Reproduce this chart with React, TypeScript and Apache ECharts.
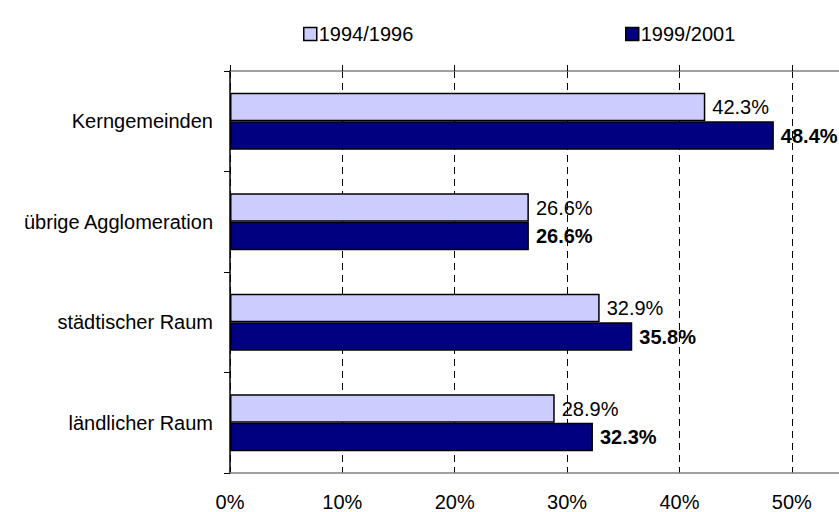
import React, { useEffect, useRef } from "react";
import * as echarts from "echarts";

const categories = ["Kerngemeinden", "übrige Agglomeration", "städtischer Raum", "ländlicher Raum"];
const seriesNames = ["1994/1996", "1999/2001"];
const values1994 = [42.3, 26.6, 32.9, 28.9];
const values1999 = [48.4, 26.6, 35.8, 32.3];

const FONT = '"Liberation Sans", Arial, Helvetica, sans-serif';

export default function App() {
  const ref = useRef<HTMLDivElement>(null);
  useEffect(() => {
    document.body.style.margin = "0";
    const chart = echarts.init(ref.current!, null, { renderer: "svg" });
    const label = (bold: boolean) => ({
      show: true,
      position: "right",
      distance: 7,
      color: "#000",
      fontFamily: FONT,
      fontSize: 20,
      fontWeight: bold ? "bold" : "normal",
      formatter: (p: any) => p.value.toFixed(1) + "%",
    });
    const legendBase = {
      top: 19,
      icon: "rect",
      itemWidth: 13,
      itemHeight: 13,
      itemGap: 0,
      itemStyle: { borderColor: "#000", borderWidth: 1.5 },
      textStyle: { fontSize: 20, color: "#000", fontFamily: FONT, padding: [0, 0, 0, -3] },
    };
    chart.setOption({
      animation: false,
      backgroundColor: "#fff",
      textStyle: { fontFamily: FONT },
      legend: [
        { ...legendBase, data: [seriesNames[0]], left: 298 },
        { ...legendBase, data: [seriesNames[1]], left: 620 },
      ],
      grid: {
        left: 230,
        top: 71,
        width: 618,
        height: 402,
        containLabel: false,
        outerBoundsMode: "none",
      },
      xAxis: [
        {
          type: "value",
          position: "bottom",
          min: 0,
          max: 55,
          interval: 10,
          axisLine: { show: true, lineStyle: { color: "#808080", width: 1.5 } },
          axisTick: { show: false },
          axisLabel: {
            color: "#000",
            fontSize: 20,
            fontFamily: FONT,
            margin: 19,
            formatter: (v: number) => (v % 10 === 0 ? v + "%" : ""),
          },
          splitLine: { show: true, lineStyle: { color: "#000", width: 1, type: [7, 5] } },
        },
        {
          type: "value",
          position: "top",
          min: 0,
          max: 55,
          interval: 10,
          axisLine: { show: true, lineStyle: { color: "#808080", width: 1.5 } },
          axisTick: { show: true, length: 6, lineStyle: { color: "#000", width: 1 } },
          axisLabel: { show: false },
          splitLine: { show: false },
        },
      ],
      yAxis: {
        type: "category",
        data: categories,
        inverse: true,
        axisLine: { show: true, lineStyle: { color: "#000", width: 1.5 } },
        axisTick: { show: true, length: 6, lineStyle: { color: "#000", width: 1 } },
        axisLabel: { color: "#000", fontSize: 20, fontFamily: FONT, margin: 17 },
      },
      series: [
        {
          name: seriesNames[0],
          type: "bar",
          data: values1994,
          barWidth: 28.5,
          barGap: "0%",
          itemStyle: { color: "#CCCCFF", borderColor: "#000", borderWidth: 1.5 },
          label: label(false),
        },
        {
          name: seriesNames[1],
          type: "bar",
          data: values1999,
          barWidth: 28.5,
          barGap: "0%",
          itemStyle: { color: "#000080", borderColor: "#000", borderWidth: 1.5 },
          label: label(true),
        },
      ],
    });
    return () => chart.dispose();
  }, []);
  return <div ref={ref} style={{ position: "fixed", left: 0, top: 0, width: 839, height: 512 }} />;
}
